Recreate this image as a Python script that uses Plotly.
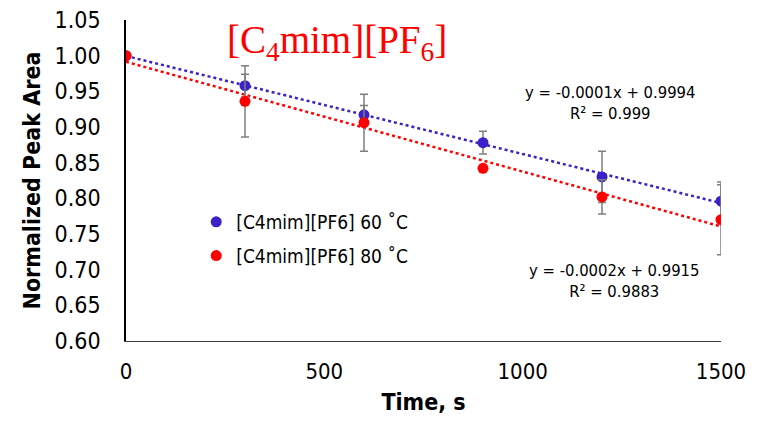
import numpy as np
import plotly.graph_objects as go

time_s = [0, 300, 600, 900, 1200, 1500]
area_60 = [1.000, 0.958, 0.917, 0.878, 0.830, 0.796]
err_60 = [0.0, 0.016, 0.013, 0.016, 0.036, 0.027]
area_80 = [1.000, 0.936, 0.906, 0.842, 0.802, 0.770]
err_80 = [0.0, 0.050, 0.040, 0.0, 0.024, 0.049]
y_ticks = [0.60, 0.65, 0.70, 0.75, 0.80, 0.85, 0.90, 0.95, 1.00, 1.05]
x_ticks = [0, 500, 1000, 1500]

BLUE = "#3A22C6"
RED = "#FF0000"
FONT = "DejaVu Sans Condensed, DejaVu Sans"

fig = go.Figure()

xs = np.array([0, 1500])
for ys, col in [(area_60, BLUE), (area_80, RED)]:
    k, b = np.polyfit(time_s, ys, 1)
    fig.add_trace(go.Scatter(x=xs, y=k * xs + b, mode="lines",
                             line=dict(color=col, width=2.5, dash="dot"),
                             showlegend=False, hoverinfo="skip"))

for ys, er, col, name, grp in [(area_60, err_60, BLUE, "[C4mim][PF6] 60 ˚C", "a"),
                               (area_80, err_80, RED, "[C4mim][PF6] 80 ˚C", "b")]:
    fig.add_trace(go.Scatter(x=time_s, y=ys, mode="markers", name=name, legendgroup=grp,
                             marker=dict(color=col, size=11),
                             error_y=dict(type="data", array=er, visible=True,
                                          color="#7F7F7F", thickness=1.5, width=4)))

fig.add_annotation(x=531, y=1.018, text="[C<sub>4</sub>mim][PF<sub>6</sub>]", showarrow=False,
                   font=dict(family="Liberation Serif", size=39, color=RED))
fig.add_annotation(x=1221, y=0.933, text="y = -0.0001x + 0.9994<br>R² = 0.999", showarrow=False,
                   font=dict(family=FONT, size=16.5, color="black"))
fig.add_annotation(x=1232, y=0.684, text="y = -0.0002x + 0.9915<br>R² = 0.9883", showarrow=False,
                   font=dict(family=FONT, size=16.5, color="black"))

fig.update_layout(
    width=749, height=417,
    margin=dict(l=118, r=36, t=12, b=84),
    plot_bgcolor="white", paper_bgcolor="white",
    font=dict(family=FONT, color="black"),
    showlegend=True,
    legend=dict(x=0.118, y=0.43, xanchor="left", yanchor="top",
                bgcolor="rgba(0,0,0,0)", font=dict(size=19, color="black"),
                itemwidth=30, tracegroupgap=6),
    xaxis=dict(range=[0, 1500], tickvals=x_ticks, ticktext=[str(v) for v in x_ticks],
               showgrid=False, zeroline=False, showline=True, linecolor="#404040", linewidth=1,
               automargin=False, tickfont=dict(size=22), ticks="", ticklabelstandoff=11,
               ticklabeloverflow="allow",
               title=dict(text="<b>Time, s</b>", font=dict(size=23), standoff=10)),
    yaxis=dict(range=[0.60, 1.05], tickvals=y_ticks, ticktext=[f"{v:.2f}" for v in y_ticks],
               showgrid=False, zeroline=False, showline=True, linecolor="black", linewidth=1.5,
               automargin=False, tickfont=dict(size=23), ticks="", ticklabelstandoff=19,
               ticklabeloverflow="allow",
               title=dict(text="<b>Normalized Peak Area</b>", font=dict(size=23), standoff=8)),
)

fig.write_html("out.html")
